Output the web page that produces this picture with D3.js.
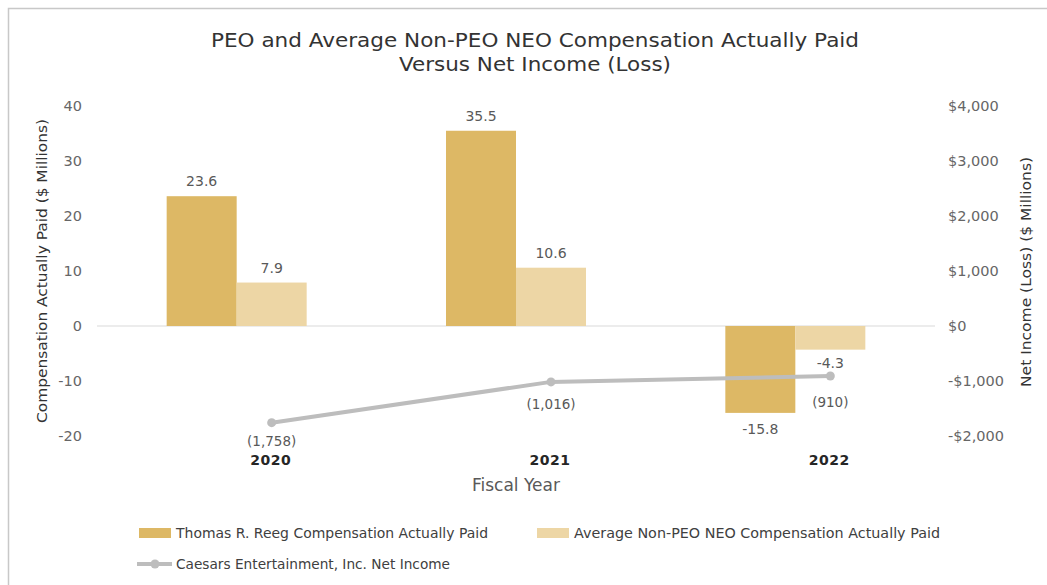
<!DOCTYPE html>
<html>
<head>
<meta charset="utf-8">
<script src="https://cdn.jsdelivr.net/npm/d3@7"></script>
<style>
  body { margin: 0; background: #fff; }
  text { font-family: "DejaVu Sans", sans-serif; }
</style>
</head>
<body>
<svg id="chart" width="1047" height="585"></svg>
<script>
// data
const years = ['2020', '2021', '2022'];
const peoPaid = [23.6, 35.5, -15.8];
const neoPaid = [7.9, 10.6, -4.3];
const netIncome = [-1758, -1016, -910];
const leftTicks = [40, 30, 20, 10, 0, -10, -20];
const rightTicks = [4000, 3000, 2000, 1000, 0, -1000, -2000];

const seriesNames = ['Thomas R. Reeg Compensation Actually Paid',
  'Average Non-PEO NEO Compensation Actually Paid',
  'Caesars Entertainment, Inc. Net Income'];
const colors = ['#ddb865', '#edd6a5', '#bdbdbd'];

const width = 1047, height = 585;
const plotLeft = 97, plotRight = 935, plotTop = 106, plotBottom = 436;

const svg = d3.select('#chart');

// frame
svg.append('path')
   .attr('d', 'M8.5,' + height + 'V8.5H' + width)
   .attr('fill', 'none')
   .attr('stroke', '#c8c8c8')
   .attr('stroke-width', 1.5);

// title
svg.append('text')
   .attr('x', 535).attr('y', 47)
   .attr('text-anchor', 'middle')
   .attr('font-size', 19)
   .attr('textLength', 648).attr('lengthAdjust', 'spacingAndGlyphs')
   .attr('fill', '#333')
   .text('PEO and Average Non-PEO NEO Compensation Actually Paid');
svg.append('text')
   .attr('x', 535).attr('y', 71)
   .attr('text-anchor', 'middle')
   .attr('font-size', 19)
   .attr('textLength', 272).attr('lengthAdjust', 'spacingAndGlyphs')
   .attr('fill', '#333')
   .text('Versus Net Income (Loss)');

//scales
const x = d3.scaleBand().domain(years).range([plotLeft, plotRight]).paddingInner(0).paddingOuter(0);
const yL = d3.scaleLinear().domain([-20, 40]).range([plotBottom, plotTop]);
const yR = d3.scaleLinear().domain([-2000, 4000]).range([plotBottom, plotTop]);
const barW = 70;

// axes (text only)
const axisL = d3.axisLeft(yL).tickValues(leftTicks).tickSize(0).tickPadding(0)
  .tickFormat(d => String(d));
const axisR = d3.axisRight(yR).tickValues(rightTicks).tickSize(0).tickPadding(0)
  .tickFormat(d => (d < 0 ? '-$' : '$') + d3.format(',')(Math.abs(d)));

const gL = svg.append('g').attr('transform', 'translate(82,0)').call(axisL);
const gR = svg.append('g').attr('transform', 'translate(948,0)').call(axisR);
[gL, gR].forEach(g => {
  g.select('.domain').remove();
  g.selectAll('text').attr('font-size', 14.5).attr('fill', '#666')
   .attr('font-family', '"DejaVu Sans", sans-serif');
});

// zero line
svg.append('line')
   .attr('x1', plotLeft).attr('x2', plotRight)
   .attr('y1', yL(0)).attr('y2', yL(0))
   .attr('stroke', '#d9d9d9').attr('stroke-width', 1);

// bars
const groups = svg.selectAll('g.year')
  .data(years)
  .enter().append('g').attr('class', 'year');

groups.append('rect')
  .attr('x', (d) => x(d) + x.bandwidth() / 2 - barW)
  .attr('width', barW)
  .attr('y', (d, i) => yL(Math.max(0, peoPaid[i])))
  .attr('height', (d, i) => Math.abs(yL(peoPaid[i]) - yL(0)))
  .attr('fill', colors[0]);

groups.append('rect')
  .attr('x', (d) => x(d) + x.bandwidth() / 2)
  .attr('width', barW)
  .attr('y', (d, i) => yL(Math.max(0, neoPaid[i])))
  .attr('height', (d, i) => Math.abs(yL(neoPaid[i]) - yL(0)))
  .attr('fill', colors[1]);

// bar labels
groups.append('text')
  .attr('x', (d) => x(d) + x.bandwidth() / 2 - barW / 2)
  .attr('y', (d, i) => peoPaid[i] >= 0 ? yL(peoPaid[i]) - 10 : yL(peoPaid[i]) + 21)
  .attr('text-anchor', 'middle')
  .attr('font-size', 14).attr('fill', '#595959')
  .text((d, i) => peoPaid[i].toFixed(1));

groups.append('text')
  .attr('x', (d) => x(d) + x.bandwidth() / 2 + barW / 2)
  .attr('y', (d, i) => neoPaid[i] >= 0 ? yL(neoPaid[i]) - 10 : yL(neoPaid[i]) + 18)
  .attr('text-anchor', 'middle')
  .attr('font-size', 14).attr('fill', '#595959')
  .text((d, i) => neoPaid[i].toFixed(1));

// net income line
const px = (d) => x(d) + x.bandwidth() / 2 + barW / 2;
const line = d3.line().x((d) => px(d)).y((d, i) => yR(netIncome[i]));
svg.append('path')
   .datum(years)
   .attr('d', line)
   .attr('fill', 'none')
   .attr('stroke', colors[2])
   .attr('stroke-width', 4);

svg.selectAll('circle.pt')
   .data(years)
   .enter().append('circle')
   .attr('class', 'pt')
   .attr('cx', (d) => px(d))
   .attr('cy', (d, i) => yR(netIncome[i]))
   .attr('r', 4.5)
   .attr('fill', colors[2]);

// labels sit a bit lower the higher the point is
svg.selectAll('text.ni')
   .data(years)
   .enter().append('text')
   .attr('class', 'ni')
   .attr('x', (d) => px(d))
   .attr('y', (d, i) => yR(netIncome[i]) + 23 + i * 4)
   .attr('text-anchor', 'middle')
   .attr('font-size', 13.5).attr('fill', '#595959')
   .text((d, i) => '(' + d3.format(',')(Math.abs(netIncome[i])) + ')');

// category labels
svg.selectAll('text.yr')
   .data(years)
   .enter().append('text')
   .attr('class', 'yr')
   .attr('x', (d) => px(d) - 1)
   .attr('y', 465)
   .attr('text-anchor', 'middle')
   .attr('font-size', 14).attr('font-weight', 'bold').attr('fill', '#262626')
   .attr('letter-spacing', 0.5)
   .text((d) => d);

// axis titles
svg.append('text')
   .attr('x', 516).attr('y', 491)
   .attr('text-anchor', 'middle')
   .attr('font-size', 17).attr('fill', '#595959')
   .text('Fiscal Year');

svg.append('text')
   .attr('transform', 'translate(47,271) rotate(-90)')
   .attr('text-anchor', 'middle')
   .attr('font-size', 13.5).attr('fill', '#333')
   .attr('textLength', 304).attr('lengthAdjust', 'spacingAndGlyphs')
   .text('Compensation Actually Paid ($ Millions)');

svg.append('text')
   .attr('transform', 'translate(1031,272) rotate(-90)')
   .attr('text-anchor', 'middle')
   .attr('font-size', 13.5).attr('fill', '#333')
   .attr('textLength', 230).attr('lengthAdjust', 'spacingAndGlyphs')
   .text('Net Income (Loss) ($ Millions)');

// legend
const legend = [
  { x: 139, y: 533, type: 'rect', c: colors[0], t: seriesNames[0], w: 312 },
  { x: 537, y: 533, type: 'rect', c: colors[1], t: seriesNames[1], w: 366 },
  { x: 137, y: 564, type: 'line', c: colors[2], t: seriesNames[2], w: 274 }
];
legend.forEach(l => {
  const g = svg.append('g').attr('transform', 'translate(' + l.x + ',' + l.y + ')');
  if (l.type === 'rect') {
    g.append('rect').attr('x', 0).attr('y', -5).attr('width', 32).attr('height', 10).attr('fill', l.c);
  } else {
    g.append('line').attr('x1', 0).attr('x2', 35).attr('y1', 0).attr('y2', 0)
     .attr('stroke', l.c).attr('stroke-width', 4);
    g.append('circle').attr('cx', 18).attr('cy', 0).attr('r', 4.5).attr('fill', l.c);
  }
  g.append('text').attr('x', l.type === 'rect' ? 37 : 39).attr('y', 5)
   .attr('font-size', 13.5).attr('fill', '#404040')
   .attr('textLength', l.w).attr('lengthAdjust', 'spacingAndGlyphs')
   .text(l.t);
});
</script>
</body>
</html>
